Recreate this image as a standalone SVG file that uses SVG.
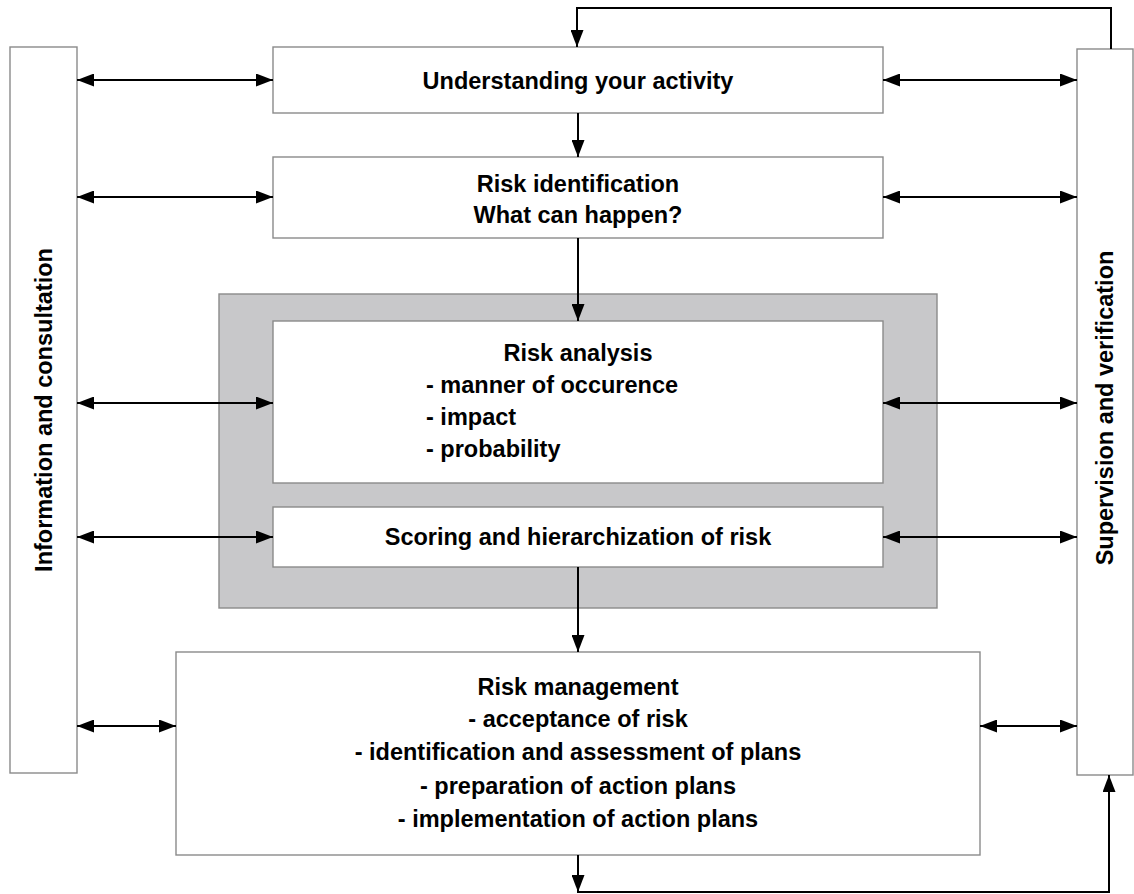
<svg xmlns="http://www.w3.org/2000/svg" width="1134" height="894" viewBox="0 0 1134 894">
<defs>
<marker id="ah" markerUnits="userSpaceOnUse" markerWidth="17" markerHeight="13" refX="17" refY="6.5" orient="auto-start-reverse" viewBox="0 0 17 13">
<path d="M0,0 L17,6.5 L0,13 z" fill="#000"/>
</marker>
<style>
.box{fill:#fff;stroke:#8a8a8a;stroke-width:1.4}
.grp{fill:#c8c8ca;stroke:#8a8a8a;stroke-width:1.4}
.t{font-family:"Liberation Sans",Arial,sans-serif;font-weight:bold;font-size:23.5px;fill:#000}
.c{text-anchor:middle}
.ln{fill:none;stroke:#000;stroke-width:2}
.da{marker-start:url(#ah);marker-end:url(#ah)}
.sa{marker-end:url(#ah)}
</style>
</defs>
<rect width="1134" height="894" fill="#fff"/>
<g id="info">
<rect class="box" x="10" y="47" width="67" height="726"/>
<text class="t c" transform="translate(52,410) rotate(-90)">Information and consultation</text>
</g>
<g id="supervision">
<rect class="box" x="1077" y="49" width="56" height="726"/>
<text class="t c" transform="translate(1113,408) rotate(-90)">Supervision and verification</text>
</g>
<g id="understanding">
<rect class="box" x="273" y="47" width="610" height="66"/>
<text class="t c" x="578" y="89">Understanding your activity</text>
</g>
<g id="identification">
<rect class="box" x="273" y="157" width="610" height="81"/>
<text class="t c" x="578" y="192">Risk identification</text>
<text class="t c" x="578" y="223">What can happen?</text>
</g>
<g id="evaluation-group">
<rect class="grp" x="219" y="294" width="718" height="314"/>
</g>
<g id="analysis">
<rect class="box" x="273" y="321" width="610" height="162"/>
<text class="t c" x="578" y="361">Risk analysis</text>
<text class="t" x="426" y="393">- manner of occurence</text>
<text class="t" x="426" y="425">- impact</text>
<text class="t" x="426" y="457">- probability</text>
</g>
<g id="scoring">
<rect class="box" x="273" y="507" width="610" height="60"/>
<text class="t c" x="578" y="545">Scoring and hierarchization of risk</text>
</g>
<g id="management">
<rect class="box" x="176" y="652" width="804" height="203"/>
<text class="t c" x="578" y="695">Risk management</text>
<text class="t c" x="578" y="727">- acceptance of risk</text>
<text class="t c" x="578" y="760">- identification and assessment of plans</text>
<text class="t c" x="578" y="794">- preparation of action plans</text>
<text class="t c" x="578" y="827">- implementation of action plans</text>
</g>
<g id="connectors">
<path class="ln da" d="M77,80 H273"/>
<path class="ln da" d="M77,197 H273"/>
<path class="ln da" d="M77,403 H273"/>
<path class="ln da" d="M77,537 H273"/>
<path class="ln da" d="M77,726 H176"/>
<path class="ln da" d="M883,80 H1077"/>
<path class="ln da" d="M883,197 H1077"/>
<path class="ln da" d="M883,403 H1077"/>
<path class="ln da" d="M883,537 H1077"/>
<path class="ln da" d="M980,726 H1077"/>
<path class="ln sa" d="M578,113 V157"/>
<path class="ln sa" d="M578,238 V321"/>
<path class="ln sa" d="M578,567 V652"/>
<path class="ln sa" d="M578,855 V892"/>
<path class="ln sa" d="M577,892 H1109 V775"/>
<path class="ln sa" d="M1111,49 V8 H577 V47"/>
</g>
</svg>
